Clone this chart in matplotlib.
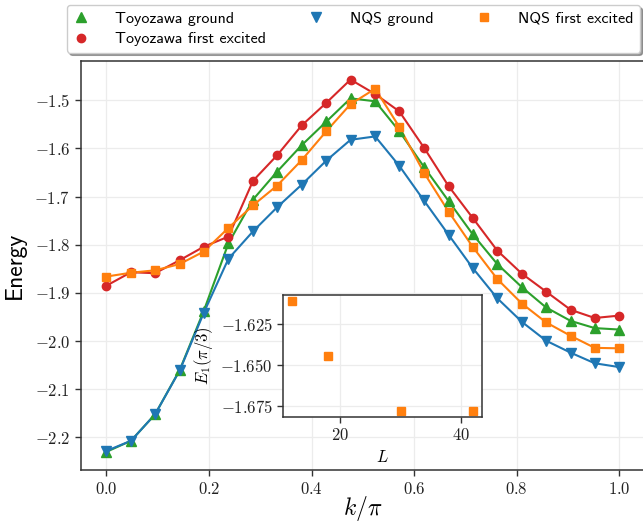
import matplotlib
matplotlib.use("Agg")
import matplotlib.pyplot as plt
from matplotlib.ticker import FuncFormatter, MultipleLocator

plt.rcParams['mathtext.fontset'] = 'cm'
plt.rcParams['font.family'] = ['cmss10', 'DejaVu Sans']
plt.rcParams['axes.unicode_minus'] = False

# k / pi grid
k = [0.0, 0.048, 0.095, 0.143, 0.190, 0.238, 0.286, 0.333, 0.381, 0.429, 0.476,
     0.524, 0.571, 0.619, 0.667, 0.714, 0.762, 0.810, 0.857, 0.905, 0.952, 1.0]

toy_ground = [-2.230, -2.207, -2.152, -2.060, -1.937, -1.797, -1.706, -1.648, -1.593, -1.544, -1.496,
              -1.502, -1.564, -1.638, -1.709, -1.778, -1.840, -1.888, -1.930, -1.958, -1.973, -1.976]
toy_excited = [-1.885, -1.857, -1.859, -1.832, -1.804, -1.783, -1.667, -1.614, -1.552, -1.505, -1.457,
               -1.487, -1.523, -1.598, -1.678, -1.744, -1.812, -1.860, -1.897, -1.935, -1.952, -1.947]
nqs_ground = [-2.228, -2.207, -2.152, -2.061, -1.941, -1.829, -1.772, -1.722, -1.675, -1.625, -1.582,
              -1.575, -1.636, -1.708, -1.779, -1.848, -1.911, -1.960, -1.999, -2.024, -2.046, -2.054]
nqs_excited = [-1.866, -1.858, -1.853, -1.840, -1.814, -1.765, -1.718, -1.677, -1.624, -1.564, -1.508,
               -1.476, -1.555, -1.650, -1.731, -1.804, -1.871, -1.922, -1.961, -1.989, -2.014, -2.015]

# inset: first excited energy at k = pi/3 vs system size
L_sizes = [12, 18, 30, 42]
E1_pi3 = [-1.6107, -1.6446, -1.678, -1.678]

series = [
    (toy_ground, 'Toyozawa ground', '#2ca02c', '^', 6.5),
    (toy_excited, 'Toyozawa first excited', '#d62728', 'o', 6),
    (nqs_ground, 'NQS ground', '#1f77b4', 'v', 6.5),
    (nqs_excited, 'NQS first excited', '#ff7f0e', 's', 6),
]

spine_col = '#333333'
grid_col = '#ececec'


def style_axes(ax):
    ax.grid(True, color=grid_col, lw=0.9)
    ax.set_axisbelow(True)
    for s in ax.spines.values():
        s.set_color(spine_col)
        s.set_linewidth(1.1)
    ax.tick_params(direction='out', length=4, width=1, color=spine_col, labelsize=12, labelcolor='#222222')


fig = plt.figure(figsize=(6.43, 5.23), dpi=100)
ax = fig.add_axes([0.1255, 0.1004, 0.8776, 0.783])
style_axes(ax)

for ys, lab, col, mk, ms in series:
    ax.plot(k, ys, color=col, lw=1.5, zorder=2)
for ys, lab, col, mk, ms in series:
    ax.plot(k, ys, ls='none', marker=mk, ms=ms, color=col, label=lab, zorder=3)

ax.set_xlim(-0.05, 1.05)
ax.xaxis.set_major_locator(MultipleLocator(0.2))
ax.yaxis.set_major_locator(MultipleLocator(0.1))
ax.xaxis.set_major_formatter(FuncFormatter(lambda v, p: f'${v:.1f}$'))
ax.yaxis.set_major_formatter(FuncFormatter(lambda v, p: f'${v:.1f}$'))
ax.set_xlabel(r'$k/\pi$', fontsize=17, labelpad=-2)
ax.set_ylabel('Energy', fontsize=17, labelpad=6)

handles, labels = ax.get_legend_handles_labels()
fig.legend(handles, labels, loc='upper left', bbox_to_anchor=(0.104, 0.9006, 0.891, 0.0898),
           mode='expand', ncol=3, fontsize=11.5, shadow=True, borderaxespad=0,
           handlelength=1.0, handletextpad=1.6, labelspacing=0.4, frameon=True)

# inset
axin = fig.add_axes([0.4401, 0.2027, 0.3095, 0.2333])
style_axes(axin)
axin.plot(L_sizes, E1_pi3, ls='none', marker='s', ms=6, color='#ff7f0e')
axin.xaxis.set_major_locator(MultipleLocator(20))
axin.yaxis.set_major_locator(MultipleLocator(0.025))
axin.xaxis.set_major_formatter(FuncFormatter(lambda v, p: f'${v:.0f}$'))
axin.yaxis.set_major_formatter(FuncFormatter(lambda v, p: f'${v:.3f}$'))
axin.set_xlabel(r'$L$', fontsize=12)
axin.set_ylabel(r'$E_1(\pi/3)$', fontsize=12)

fig.savefig('out.png', dpi=100)
